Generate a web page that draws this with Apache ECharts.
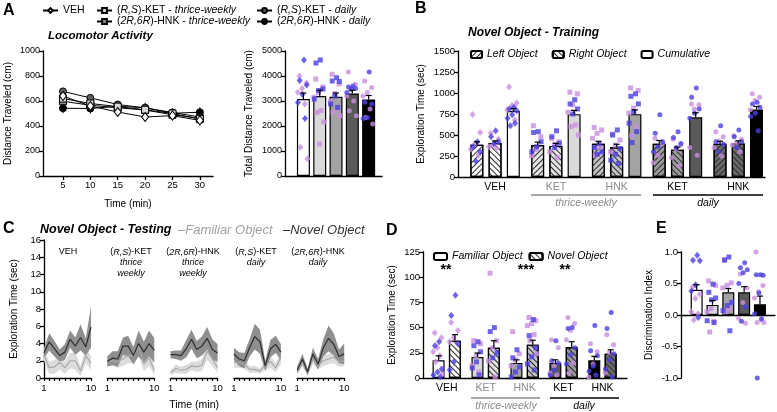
<!DOCTYPE html>
<html>
<head>
<meta charset="utf-8">
<script src="https://cdn.jsdelivr.net/npm/echarts@6/dist/echarts.min.js"></script>
<style>
  html, body { margin: 0; background: #fff; }
  #chart { width: 777px; height: 412px; }
</style>
</head>
<body>
<div id="chart"></div>
<script>
const FONT = '"Liberation Sans", Arial, sans-serif'

// ---- A: locomotor activity ----
const timeMin = [5, 10, 15, 20, 25, 30]
const locoNames = ['VEH', '(R,S)-KET - thrice-weekly', '(2R,6R)-HNK - thrice-weekly', '(R,S)-KET - daily', '(2R,6R)-HNK - daily']
const locoVEH = [640, 560, 512, 472, 483, 445]
const locoKETtw = [620, 580, 555, 530, 500, 455]
const locoHNKtw = [598, 566, 546, 528, 490, 462]
const locoKETd = [677, 625, 572, 545, 508, 472]
const locoHNKd = [542, 540, 558, 546, 502, 510]
const locoSem = [30, 25, 25, 25, 40]

const groups = ['VEH', 'KET', 'HNK', 'KET', 'HNK']
const totalDist = [3080, 3200, 3170, 3300, 3060]
const totalDistSem = [240, 230, 150, 130, 160]
const totalDistBlue = [[4640, 3820, 3640, 3260, 2940, 2300], [4640, 4520, 3480, 3420, 3080], [3930, 3800, 3780, 3200, 2880, 2740], [3600, 3560, 3500, 3480, 3340], [4160, 2950, 2880, 2340, 2300]]
const totalDistPink = [[4000, 3720, 3500, 3350, 2880, 1150, 690], [3880, 3560, 3340, 3150, 2620, 2540, 2160, 1280], [4070, 3680, 3300, 3000, 2680, 2540, 2410], [4160, 3670, 3450, 3200, 3000, 2610, 2410], [3800, 3540, 3340, 3200, 2680, 2340, 2080]]

// ---- B: novel object training ----
const trainLeft = [385, 380, 395, 395, 395]
const trainRight = [405, 370, 355, 325, 400]
const trainCum = [785, 748, 748, 710, 805]
const trainLeftSem = [35, 35, 30, 40, 30]
const trainRightSem = [25, 30, 35, 30, 30]
const trainCumSem = [30, 45, 50, 55, 35]
const trainLeftBlue = [[420, 360, 300, 190], [540, 530, 420, 360, 300], [400, 350, 300, 270], [740, 520, 420, 360, 300], [610, 420, 390, 300]]
const trainLeftPink = [[745, 530, 400, 330, 260], [610, 480, 330, 250], [590, 560, 520, 460, 350, 260], [460, 400, 260, 170], [540, 480, 430, 350, 250]]
const trainRightBlue = [[550, 480, 420, 400], [550, 480, 400, 350], [560, 500, 340, 270, 200, 160], [540, 470, 400, 350], [560, 480, 420, 350]]
const trainRightPink = [[520, 450, 380, 360, 340], [460, 420, 390, 300, 230], [510, 440, 380, 300], [450, 380, 330, 230, 130], [490, 450, 410, 380, 300]]
const trainCumBlue = [[830, 810, 790, 740, 700, 640, 610], [920, 870, 810, 750], [990, 960, 870, 780, 640, 540, 410], [1060, 950, 810, 760, 700], [890, 870, 830, 760, 720, 550]]
const trainCumPink = [[1070, 880, 850, 800, 680], [1010, 990, 860, 770, 620, 600, 500], [1060, 1030, 820, 760, 600, 490], [870, 860, 810, 350, 260], [990, 950, 910, 800]]

// ---- C: novel object testing, per minute (mean, sem) ----
const testTitles = [['VEH'], ['({i|R,S})-KET', '{i|thrice}', '{i|weekly}'], ['({i|2R,6R})-HNK', '{i|thrice}', '{i|weekly}'], ['({i|R,S})-KET', '{i|daily}'], ['({i|2R,6R})-HNK', '{i|daily}']]
const testMinute = [1, 2, 3, 4, 5, 6, 7, 8, 9, 10]
const testNovel = [
  [2.9, 4.2, 3.4, 2.6, 3.0, 4.5, 3.7, 4.7, 3.6, 5.9],
  [1.9, 2.3, 2.2, 3.7, 3.7, 2.6, 4.0, 3.0, 4.0, 3.2],
  [2.7, 2.7, 2.6, 3.4, 4.5, 3.3, 3.7, 4.6, 3.3, 2.9],
  [2.8, 2.2, 2.0, 3.5, 4.8, 4.2, 1.4, 3.4, 3.9, 3.0],
  [0.9, 2.2, 0.7, 2.8, 1.6, 3.5, 4.6, 3.9, 2.5, 2.8]
]
const testNovelSem = [
  [0.6, 1.0, 0.9, 0.7, 0.9, 1.0, 1.0, 1.5, 1.0, 2.4],
  [0.6, 0.8, 0.9, 1.0, 1.2, 1.0, 1.5, 1.2, 1.5, 1.4],
  [0.4, 0.5, 0.6, 1.0, 1.1, 1.0, 1.1, 1.3, 1.2, 1.0],
  [0.7, 0.8, 0.9, 1.0, 1.5, 1.4, 0.6, 1.0, 1.0, 0.9],
  [0.4, 0.6, 0.4, 0.7, 0.6, 1.0, 1.5, 1.3, 0.8, 1.2]
]
const testFam = [
  [2.6, 1.2, 1.3, 1.8, 1.2, 2.0, 2.0, 0.8, 2.6, 1.7],
  [1.9, 2.0, 1.9, 2.2, 2.6, 2.6, 3.6, 1.6, 2.3, 0.9],
  [0.6, 1.1, 0.9, 1.0, 1.4, 1.3, 1.5, 3.1, 2.2, 1.2],
  [1.8, 1.8, 1.6, 1.0, 1.0, 0.8, 1.5, 1.9, 1.2, 2.4],
  [0.9, 1.8, 0.6, 2.2, 1.5, 2.0, 2.2, 2.4, 1.9, 2.0]
]
const testFamSem = [
  [0.6, 0.7, 0.8, 0.8, 0.7, 0.9, 1.0, 0.6, 0.9, 0.8],
  [0.5, 0.6, 0.7, 0.8, 0.9, 0.9, 1.0, 0.8, 0.9, 0.6],
  [0.3, 0.5, 0.4, 0.5, 0.5, 0.6, 0.7, 1.0, 0.8, 0.6],
  [0.6, 0.6, 0.5, 0.4, 0.4, 0.3, 0.6, 0.7, 0.5, 0.8],
  [0.4, 0.5, 0.3, 0.6, 0.5, 0.6, 0.6, 0.7, 0.6, 0.6]
]

// ---- D: total exploration in testing ----
const objFam = [17.5, 20.8, 15, 15, 17.5]
const objNov = [37, 30, 33, 30.5, 24]
const objFamSem = [4.5, 4, 3, 3, 4]
const objNovSem = [6, 7, 4.5, 5.5, 4]
const objFamBlue = [[36, 32, 9, 6, 3, 1], [36, 32, 26, 16, 10, 3], [28, 20, 11, 6, 1], [37, 17, 15, 8, 3], [52, 27, 22, 12, 7, 3]]
const objFamPink = [[45, 40, 30, 26, 22, 16, 4], [37, 34, 22, 12, 6], [46, 24, 18, 12], [38, 30, 12, 5, 3], [34, 26, 14, 1]]
const objNovBlue = [[82, 62, 34, 16, 8], [50, 46, 25, 20], [58, 42, 30, 21, 14, 8], [50, 49, 30, 23, 14], [65, 49, 24, 18, 9, 1]]
const objNovPink = [[55, 47, 40, 36], [104, 37, 30, 17, 1], [60, 57, 54, 52, 43, 37, 24], [60, 54, 47, 38, 15, 5], [43, 33, 25, 5]]

// ---- E: discrimination index ----
const discIndex = [0.40, 0.16, 0.36, 0.36, 0.17]
const discSem = [0.08, 0.07, 0.06, 0.09, 0.13]
const discBlue = [[0.95, 0.87, 0.86, 0.48, 0.38, -0.04], [0.49, 0.36, 0.27, 0.24, -0.09, -0.12], [0.92, 0.87, 0.20, 0.15, 0.07, -0.25], [0.83, 0.75, 0.72, 0.67, 0.50, 0.13, -0.10], [0.64, 0.64, 0.63, 0.35, 0.02, -0.06, -1.0]]
const discPink = [[0.45, 0.33, 0.26, 0.05, 0.02, -0.08], [0.54, 0.47, 0.10, 0.05, -0.10, -0.27], [0.88, 0.51, 0.47, 0.43, 0.10, 0.05], [0.65, 0.43, 0.20, -0.05, -0.13], [1.0, 0.47, 0.37, 0.27, -0.08, -0.12, -0.12]]

// styles
const groupFill = ['#ffffff', '#d9d9d9', '#a3a3a3', '#5a5a5a', '#000000']
const hatchFill = ['#ffffff', '#e3e3e3', '#c4c4c4', '#9a9a9a', '#6a6a6a']
const groupSym = ['diamond', 'rect', 'rect', 'circle', 'circle']
const BLUE = '#4b3fe3'
const PINK = '#c98fe0'
// 左物体 ////，右物体 \\\\
const hatchL = { symbol: 'rect', symbolSize: 1, dashArrayX: [1, 0], dashArrayY: [1, 2.2], rotation: -Math.PI / 4, color: '#2a2a2a' }
const hatchR = { symbol: 'rect', symbolSize: 1, dashArrayX: [1, 0], dashArrayY: [1, 2.2], rotation: Math.PI / 4, color: '#2a2a2a' }

const gIdx = [0, 1, 2, 3, 4]
const italicRich = { i: { fontStyle: 'italic', fontFamily: FONT, fontSize: 10.5, color: '#000' } }
const italicName = name => name.replace(/2R,6R|R,S|thrice-weekly|daily/g, m => '{i|' + m + '}')

// 点的横向散开（固定规律，不随机）
function jitter(i, w, phase) {
  return ((i * 0.618 + phase) % 1 - 0.5) * w
}

function pointSeries(axis, lists, xs, color, w, phase) {
  let data = []
  lists.forEach((vals, g) => {
    vals.forEach((v, i) => {
      data.push({ value: [xs[g] + jitter(i, w, phase), v], symbol: groupSym[g], symbolSize: groupSym[g] === 'diamond' ? [6, 7] : 5 })
    })
  })
  return { type: 'scatter', xAxisIndex: axis, yAxisIndex: axis, data, itemStyle: { color, opacity: 0.8 }, z: 3, silent: true }
}

function barSeries(name, axis, xs, vals, fills, decal, width) {
  return {
    type: 'bar', name, xAxisIndex: axis, yAxisIndex: axis, barWidth: width, barGap: '-100%',
    data: vals.map((v, g) => ({ value: [xs[g], v], itemStyle: { color: fills[g] } })),
    itemStyle: { color: fills[0], borderColor: '#000', borderWidth: 1.2, decal },
    z: 2, silent: true
  }
}

function errSeries(axis, xs, means, sems, both, z) {
  return {
    type: 'custom', xAxisIndex: axis, yAxisIndex: axis, silent: true, z: z || 4,
    data: means.map((m, i) => [xs[i], m, sems[i]]),
    renderItem: (params, api) => {
      const x = api.value(0), m = api.value(1), s = api.value(2)
      const top = api.coord([x, m + s])
      const bot = api.coord([x, both ? m - s : m])
      const st = { stroke: '#000', lineWidth: both ? 1 : 1.2 }
      let children = [{ type: 'line', shape: { x1: top[0], y1: top[1], x2: bot[0], y2: bot[1] }, style: st }]
      if (!both) children.push({ type: 'line', shape: { x1: top[0] - 3, y1: top[1], x2: top[0] + 3, y2: top[1] }, style: st })
      return { type: 'group', children }
    }
  }
}

// 均值±SEM 阴影带，整段多边形在第一个数据项里画
function bandSeries(axis, mean, sem, color, z) {
  return {
    type: 'custom', xAxisIndex: axis, yAxisIndex: axis, silent: true, z,
    data: mean.map((m, i) => [testMinute[i], Math.max(0, m - sem[i]), m + sem[i]]),
    renderItem: (params, api) => {
      if (params.dataIndexInside !== 0) return null
      const n = params.dataInsideLength
      let up = [], lo = []
      for (let i = 0; i < n; i++) {
        up.push(api.coord([api.value(0, i), api.value(2, i)]))
        lo.push(api.coord([api.value(0, i), api.value(1, i)]))
      }
      return { type: 'polygon', shape: { points: up.concat(lo.reverse()) }, style: { fill: color } }
    }
  }
}

function yAx(grid, min, max, interval, name, nameGap, extra) {
  return Object.assign({
    type: 'value', gridIndex: grid, min, max, interval,
    name, nameLocation: 'middle', nameGap, nameRotate: 90,
    nameTextStyle: { fontFamily: FONT, fontSize: 10, color: '#000' },
    axisLine: { show: true, onZero: false, lineStyle: { color: '#000', width: 1.3 } },
    axisTick: { show: true, length: 4, lineStyle: { color: '#000', width: 1.3 } },
    axisLabel: { fontFamily: FONT, fontSize: 9.5, color: '#000', margin: 3, formatter: v => String(v) },
    splitLine: { show: false }
  }, extra || {})
}

function xAx(grid, min, max, extra) {
  return Object.assign({
    type: 'value', gridIndex: grid, min, max,
    axisLine: { show: true, onZero: false, lineStyle: { color: '#000', width: 1.3 } },
    axisTick: { show: false },
    axisLabel: { show: false },
    splitLine: { show: false }
  }, extra || {})
}

const groupLabel = {
  show: true, customValues: gIdx, margin: 5,
  formatter: v => {
    const g = Math.round(v)
    return (g === 1 || g === 2 ? '{t|' : '{d|') + groups[g] + '}'
  },
  rich: { t: { color: '#8a8a8a', fontSize: 10.5, fontFamily: FONT }, d: { color: '#000', fontSize: 10.5, fontFamily: FONT } }
}

// ---- grids ----
let grid = [
  { left: 43, top: 51, width: 170, height: 125 },
  { left: 285, top: 51, width: 97, height: 125 },
  { left: 458, top: 51, width: 307, height: 126 }
]
for (let p = 0; p < 5; p++) grid.push({ left: 44 + 63.3 * p, top: 240, width: 47, height: 138 })
grid.push({ left: 423, top: 252, width: 204, height: 126 })
grid.push({ left: 681, top: 252, width: 94, height: 126 })

let xAxis = [
  xAx(0, 1.35, 32.4, {
    name: 'Time (min)', nameLocation: 'middle', nameGap: 23, nameTextStyle: { fontFamily: FONT, fontSize: 10, color: '#000' },
    axisTick: { show: true, customValues: timeMin, length: 4, lineStyle: { color: '#000', width: 1.3 } },
    axisLabel: { show: true, customValues: timeMin, fontFamily: FONT, fontSize: 9.5, color: '#000', margin: 4 }
  }),
  xAx(1, -1.13, 4.82),
  xAx(2, -0.61, 4.44, { axisLabel: groupLabel })
]
let yAxis = [
  yAx(0, 0, 1000, 200, 'Distance Traveled (cm)', 30, { axisLabel: { fontFamily: FONT, fontSize: 9, color: '#000', margin: 3, formatter: v => String(v) } }),
  yAx(1, 0, 5000, 1000, 'Total Distance Traveled (cm)', 31, { axisLabel: { fontFamily: FONT, fontSize: 9, color: '#000', margin: 3, formatter: v => String(v) } }),
  yAx(2, 0, 1500, 250, 'Exploration Time (sec)', 32)
]
for (let p = 0; p < 5; p++) {
  xAxis.push(xAx(3 + p, 1, 10, {
    interval: 1,
    name: p === 2 ? 'Time (min)' : '', nameLocation: 'middle', nameGap: 22,
    nameTextStyle: { fontFamily: FONT, fontSize: 10.5, color: '#000' },
    axisTick: { show: true, length: 3, lineStyle: { color: '#000', width: 1.2 } },
    axisLabel: { show: true, customValues: [1, 10], fontFamily: FONT, fontSize: 9.5, color: '#000', margin: 5 }
  }))
  yAxis.push(p === 0
    ? yAx(3, 0, 16, 2, 'Exploration Time (sec)', 25)
    : yAx(3 + p, 0, 16, 2, '', 0, { show: false }))
}
xAxis.push(xAx(8, -0.61, 4.63, { axisLabel: groupLabel }))
yAxis.push(yAx(8, 0, 125, 25, 'Exploration Time (sec)', 26))
xAxis.push(xAx(9, -0.99, 4.95, { axisLine: { show: true, onZero: true, lineStyle: { color: '#000', width: 1.3 } } }))
yAxis.push(yAx(9, -1, 1, 0.5, 'Discrimination Index', 27, {
  axisLabel: { fontFamily: FONT, fontSize: 9.5, color: '#000', margin: 3, formatter: v => v.toFixed(1) }
}))

// ---- series ----
let series = []

// A: time course (VEH drawn last so it sits on top)
const locoData = [locoVEH, locoKETtw, locoHNKtw, locoKETd, locoHNKd]
const locoFill = ['#ffffff', '#d9d9d9', '#8c8c8c', '#5f5f5f', '#000000']
series.push(Object.assign(errSeries(0, [], [], [], true, 2), {
  data: locoData.flatMap((arr, g) => arr.map((v, i) => [timeMin[i], v, locoSem[g]]))
}))
for (let g = 4; g >= 0; g--) {
  series.push({
    type: 'line', name: locoNames[g], xAxisIndex: 0, yAxisIndex: 0,
    data: locoData[g].map((v, i) => [timeMin[i], v]),
    symbol: groupSym[g], symbolSize: g === 0 ? [7, 9] : 7, showAllSymbol: true,
    lineStyle: { color: '#000', width: 1 },
    itemStyle: { color: locoFill[g], borderColor: '#000', borderWidth: 1 },
    z: 3, silent: true
  })
}

// A: total distance
series.push(barSeries('total', 1, gIdx, totalDist, groupFill, null, 13))
series.push(pointSeries(1, totalDistPink, gIdx, PINK, 0.7, 0.15))
series.push(pointSeries(1, totalDistBlue, gIdx, BLUE, 0.7, 0.55))
series.push(errSeries(1, gIdx, totalDist, totalDistSem, false))

// B: training
const xsB = [-0.3, 0, 0.3].map(o => gIdx.map(g => g + o))
series.push(barSeries('Left Object', 2, xsB[0], trainLeft, hatchFill, hatchL, 13))
series.push(barSeries('Right Object', 2, xsB[1], trainRight, hatchFill, hatchR, 13))
series.push(barSeries('Cumulative', 2, xsB[2], trainCum, groupFill, null, 13))
series.push(pointSeries(2, trainLeftPink, xsB[0], PINK, 0.2, 0.15))
series.push(pointSeries(2, trainLeftBlue, xsB[0], BLUE, 0.2, 0.55))
series.push(pointSeries(2, trainRightPink, xsB[1], PINK, 0.2, 0.15))
series.push(pointSeries(2, trainRightBlue, xsB[1], BLUE, 0.2, 0.55))
series.push(pointSeries(2, trainCumPink, xsB[2], PINK, 0.2, 0.15))
series.push(pointSeries(2, trainCumBlue, xsB[2], BLUE, 0.2, 0.55))
series.push(errSeries(2, xsB[0], trainLeft, trainLeftSem, false))
series.push(errSeries(2, xsB[1], trainRight, trainRightSem, false))
series.push(errSeries(2, xsB[2], trainCum, trainCumSem, false))

// C: mean ± sem bands per minute
for (let p = 0; p < 5; p++) {
  const ax = 3 + p
  series.push(bandSeries(ax, testFam[p], testFamSem[p], '#dcdcdc', 1))
  series.push(bandSeries(ax, testNovel[p], testNovelSem[p], '#8f8f8f', 1))
  series.push({ type: 'line', xAxisIndex: ax, yAxisIndex: ax, symbol: 'none', silent: true, z: 2,
    data: testFam[p].map((v, i) => [testMinute[i], v]), lineStyle: { color: '#a8a8a8', width: 1.2 } })
  series.push({ type: 'line', xAxisIndex: ax, yAxisIndex: ax, symbol: 'none', silent: true, z: 3,
    data: testNovel[p].map((v, i) => [testMinute[i], v]), lineStyle: { color: '#2e2e2e', width: 1.2 } })
}

// D: familiar vs novel
const xsD = [-0.21, 0.21].map(o => gIdx.map(g => g + o))
series.push(barSeries('Familiar Object', 8, xsD[0], objFam, groupFill, null, 12))
series.push(barSeries('Novel Object', 8, xsD[1], objNov, hatchFill, hatchR, 12))
series.push(pointSeries(8, objFamPink, xsD[0], PINK, 0.28, 0.15))
series.push(pointSeries(8, objFamBlue, xsD[0], BLUE, 0.28, 0.55))
series.push(pointSeries(8, objNovPink, xsD[1], PINK, 0.28, 0.15))
series.push(pointSeries(8, objNovBlue, xsD[1], BLUE, 0.28, 0.55))
series.push(errSeries(8, xsD[0], objFam, objFamSem, false))
series.push(errSeries(8, xsD[1], objNov, objNovSem, false))

// E: discrimination index
series.push(barSeries('disc', 9, gIdx, discIndex, groupFill, null, 12))
series.push(pointSeries(9, discPink, gIdx, PINK, 0.7, 0.15))
series.push(pointSeries(9, discBlue, gIdx, BLUE, 0.7, 0.55))
series.push(errSeries(9, gIdx, discIndex, discSem, false))

// ---- legends ----
const legendBase = {
  selectedMode: false, itemWidth: 15, itemHeight: 6, itemGap: 0,
  textStyle: { fontFamily: FONT, fontSize: 10.5, color: '#000', lineHeight: 11, rich: italicRich },
  formatter: italicName
}
const legend = [
  Object.assign({}, legendBase, { data: [locoNames[0]], left: 37, top: 0 }),
  Object.assign({}, legendBase, { data: [locoNames[1], locoNames[2]], orient: 'vertical', left: 91, top: 0 }),
  Object.assign({}, legendBase, { data: [locoNames[3], locoNames[4]], orient: 'vertical', left: 251, top: 0 }),
  { selectedMode: false, data: ['Left Object', 'Right Object', 'Cumulative'], left: 465, top: 44, itemWidth: 11, itemHeight: 7, itemGap: 14,
    textStyle: { fontFamily: FONT, fontSize: 10.5, fontStyle: 'italic', color: '#000' } },
  { selectedMode: false, data: ['Familiar Object', 'Novel Object'], left: 428, top: 246, itemWidth: 13, itemHeight: 7, itemGap: 6,
    textStyle: { fontFamily: FONT, fontSize: 10.5, fontStyle: 'italic', color: '#000' } }
]

// ---- annotations ----
function txt(x, y, text, font, fill, align, rich) {
  return { type: 'text', x, y, silent: true,
    style: { text, font, fill: fill || '#000', align: align || 'left', verticalAlign: 'middle', textAlign: align || 'left', textVerticalAlign: 'middle', rich } }
}
function hline(x1, x2, y, color) {
  return { type: 'line', silent: true, shape: { x1, y1: y, x2, y2: y }, style: { stroke: color, lineWidth: 1.5 } }
}
const titleRich = { i: { fontStyle: 'italic', fontFamily: FONT, fontSize: 9, color: '#000' } }
let graphic = [
  txt(3, 11, 'A', 'bold 16px ' + FONT),
  txt(415, 9, 'B', 'bold 16px ' + FONT),
  txt(3, 229, 'C', 'bold 16px ' + FONT),
  txt(386, 231, 'D', 'bold 16px ' + FONT),
  txt(656, 229, 'E', 'bold 16px ' + FONT),
  txt(48, 36, 'Locomotor Activity', 'italic bold 11.5px ' + FONT),
  txt(468, 33, 'Novel Object - Training', 'italic bold 12px ' + FONT),
  txt(40, 230, 'Novel Object - Testing', 'italic bold 12.5px ' + FONT),
  txt(178, 230, '\u2013Familiar Object', 'italic 13px ' + FONT, '#a0a0a0'),
  txt(283, 230, '\u2013Novel Object', 'italic 13px ' + FONT, '#333'),
  // B group brackets
  hline(531, 641, 195, '#8a8a8a'),
  hline(653, 763, 195, '#000'),
  txt(586, 203, 'thrice-weekly', 'italic 10.5px ' + FONT, '#8a8a8a', 'center'),
  txt(708, 203, 'daily', 'italic 10.5px ' + FONT, '#000', 'center'),
  // D group brackets
  hline(471, 540, 398, '#8a8a8a'),
  hline(550, 619, 398, '#000'),
  txt(506, 406, 'thrice-weekly', 'italic 10.5px ' + FONT, '#8a8a8a', 'center'),
  txt(584, 406, 'daily', 'italic 10.5px ' + FONT, '#000', 'center'),
  txt(446, 270, '**', 'bold 14px ' + FONT, '#000', 'center'),
  txt(526, 270, '***', 'bold 14px ' + FONT, '#000', 'center'),
  txt(565, 270, '**', 'bold 14px ' + FONT, '#000', 'center')
]
const titleX = [68, 131, 193, 256, 318]
testTitles.forEach((lines, p) => {
  lines.forEach((line, k) => {
    graphic.push(txt(titleX[p], 252 + k * 10.5, line, '9px ' + FONT, '#000', 'center', titleRich))
  })
})

const chart = echarts.init(document.getElementById('chart'))
chart.setOption({
  animation: false,
  backgroundColor: '#fff',
  textStyle: { fontFamily: FONT },
  grid, xAxis, yAxis, series, legend, graphic
})
</script>
</body>
</html>
